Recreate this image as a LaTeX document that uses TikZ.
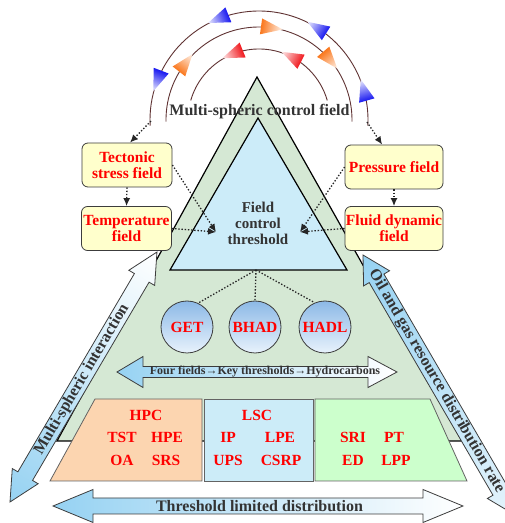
\documentclass[tikz,border=0pt]{standalone}
\usepackage{fontspec}
\setmainfont{Liberation Serif}
\usetikzlibrary{arrows.meta,calc}
\definecolor{redT}{RGB}{255,0,0}
\definecolor{darkT}{RGB}{51,51,51}
\definecolor{greenF}{RGB}{213,232,212}
\definecolor{blueF}{RGB}{204,236,249}
\definecolor{boxF}{RGB}{255,255,204}
\definecolor{boxL}{RGB}{60,60,60}
\definecolor{peach}{RGB}{252,213,176}
\definecolor{lscF}{RGB}{204,236,248}
\definecolor{mint}{RGB}{204,255,204}
\definecolor{arcC}{RGB}{95,50,50}
\definecolor{arrB}{RGB}{150,210,242}
\definecolor{cirT}{RGB}{140,185,230}
\definecolor{cirB}{RGB}{232,242,252}
\definecolor{hBlue}{RGB}{25,25,240}
\definecolor{hOrange}{RGB}{250,120,30}
\definecolor{hRed}{RGB}{240,25,30}
\newcommand\myfs[1]{\fontsize{#1}{#1}\selectfont\bfseries}
\newcommand\archead[4]{%
  \begin{scope}[transform canvas={shift={(259,403)}, rotate=#1, shift={(#2,0)}, rotate=#3}]
    \shade[left color=#4, right color=#4!8] (-11,-8) -- (11,0) -- (-11,8) -- cycle;
  \end{scope}}
\begin{document}
\begin{tikzpicture}[x=1pt,y=1pt,
  redtxt/.style={text=redT, font=\myfs{15.5}, inner sep=0pt},
  darktxt/.style={text=darkT, font=\myfs{16}, inner sep=0pt},
  fieldbox/.style={draw=boxL, line width=0.8pt, rounded corners=6pt, fill=boxF,
    minimum width=90pt, minimum height=44pt, align=center, text=redT,
    font=\fontsize{15.5}{16}\selectfont\bfseries, inner xsep=0.5pt, inner ysep=1pt},
  dotline/.style={line width=1.3pt, dash pattern=on 1.4pt off 1.8pt, draw=black!85},
  dotarrow/.style={dotline, -{Latex[length=8pt,width=7pt]}},
  circ/.style={circle, draw=boxL, line width=0.8pt, top color=cirT, bottom color=cirB,
    minimum size=52pt, inner sep=0pt, text=redT, font=\myfs{15.5}},
  trap/.style={draw=boxL!80, line width=0.8pt},
  bigarrow/.style={draw=boxL, line width=0.8pt}]
\useasboundingbox (0,0) rectangle (505,523);
\clip (0,0) rectangle (505,523);

% triangles
\draw[fill=greenF, line width=1.2pt] (257,446) -- (462,82) -- (57,82) -- cycle;
\draw[fill=blueF, line width=1.2pt] (258,405) -- (347,253) -- (170,253) -- cycle;
\node[darktxt, align=center, font=\fontsize{15}{16}\selectfont\bfseries] (fct) at (258,300) {Field\\control\\threshold};

% arcs
\draw[arcC, line width=0.9pt] (259,403) ++(183:109) arc[start angle=183, end angle=-3, radius=109];
\draw[arcC, line width=0.9pt] (259,403) ++(181:93) arc[start angle=181, end angle=-1, radius=93];
\draw[arcC, line width=0.9pt] (259,403) ++(164:71) arc[start angle=164, end angle=16, radius=71];
\archead{112}{109}{90}{hBlue}
\archead{159}{109}{90}{hBlue}
\archead{58}{109}{90}{hBlue}
\archead{16}{109}{90}{hBlue}
\archead{82}{93}{-90}{hOrange}
\archead{40}{93}{-90}{hOrange}
\archead{142}{93}{-90}{hOrange}
\archead{112}{71}{90}{hRed}
\archead{63}{71}{90}{hRed}
\node[darktxt] (mcf) at (259.5,411) {Multi-spheric control field};

% four fields arrow
\shadedraw[bigarrow, left color=arrB, right color=white]
  (117,151) -- (143,166.5) -- (143,156.5) -- (368,156.5) -- (368,166.5) -- (397,151)
  -- (368,135.5) -- (368,145.5) -- (143,145.5) -- (143,135.5) -- cycle;
\node[darktxt, font=\myfs{12}] (ff) at (265,151) {Four fields→Key thresholds→Hydrocarbons};

% circles
\node[circ] (get) at (187,196) {GET};
\node[circ] (bhad) at (255,196) {BHAD};
\node[circ] (hadl) at (325,196) {HADL};
\coordinate (tb) at (256,253);
\draw[dotline] (tb) -- (get.65);
\draw[dotline] (tb) -- (bhad.north);
\draw[dotline] (tb) -- (hadl.113);

% trapezoids
\filldraw[trap, fill=peach] (95,124) -- (202,124) -- (202,42) -- (50,42) -- cycle;
\filldraw[trap, fill=lscF] (204,124) -- (313,124) -- (313,42) -- (204,42) -- cycle;
\filldraw[trap, fill=mint] (315,124) -- (430,124) -- (467,42) -- (315,42) -- cycle;
\node[redtxt] (hpc) at (146,108) {HPC};
\node[redtxt] (tst) at (122,86) {TST};
\node[redtxt] (hpe) at (167,86) {HPE};
\node[redtxt] (oa) at (122,63) {OA};
\node[redtxt] (srs) at (166,63) {SRS};
\node[redtxt] (lsc) at (257,108) {LSC};
\node[redtxt] (ip) at (228,86) {IP};
\node[redtxt] (lpe) at (280,86) {LPE};
\node[redtxt] (ups) at (228,63) {UPS};
\node[redtxt] (csrp) at (281,63) {CSRP};
\node[redtxt] (sri) at (353,86) {SRI};
\node[redtxt] (pt) at (394,86) {PT};
\node[redtxt] (ed) at (353,63) {ED};
\node[redtxt] (lpp) at (396,63) {LPP};

% bottom arrow
\shadedraw[bigarrow, left color=arrB, right color=white]
  (53,17) -- (93,33.5) -- (93,25) -- (423,25) -- (423,33.5) -- (463,17)
  -- (423,0.5) -- (423,9) -- (93,9) -- (93,0.5) -- cycle;
\node[darktxt] (tld) at (259.5,17) {Threshold limited distribution};

% left diagonal arrow
\begin{scope}[transform canvas={shift={(10,21)}, rotate=59.55}]
  \shadedraw[bigarrow, left color=arrB, right color=white]
    (0,0) -- (30,15) -- (30,8.5) -- (260,8.5) -- (260,15) -- (290,0)
    -- (260,-15) -- (260,-8.5) -- (30,-8.5) -- (30,-15) -- cycle;
\end{scope}
\node[darktxt, rotate=59.55] (msi) at (82,143.4) {Multi-spheric interaction};

% right diagonal arrow
\begin{scope}[transform canvas={shift={(363,268)}, rotate=-59.8}]
  \shadedraw[bigarrow, left color=arrB, right color=arrB!25]
    (0,0) -- (27,15) -- (27,8.5) -- (273,8.5) -- (273,15) -- (300,0)
    -- (273,-15) -- (273,-8.5) -- (27,-8.5) -- (27,-15) -- cycle;
\end{scope}
\node[darktxt, rotate=-59.8] (ogr) at (436.4,141.8) {Oil and gas resource distribution rate};

% field boxes
\node[fieldbox] (tect) at (127,358) {Tectonic\\stress field};
\node[fieldbox] (temp) at (126.5,294.5) {Temperature\\field};
\node[fieldbox, minimum width=98pt] (pres) at (394,356) {Pressure field};
\node[fieldbox, minimum width=98pt] (fluid) at (394,294.5) {Fluid dynamic\\field};

% dotted arrows
\coordinate (lt) at (216,291);
\coordinate (rt) at (300,291);
\coordinate (al) at (151,402);
\coordinate (ar) at (367,401);
\draw[dotarrow] (tect.south) -- (temp.north);
\draw[dotarrow] (pres.south) -- (fluid.north);
\draw[dotarrow] (tect.east) -- (lt);
\draw[dotarrow] (temp.east) -- (lt);
\draw[dotarrow] (pres.west) -- (rt);
\draw[dotarrow] (fluid.west) -- (rt);
\draw[dotarrow] (al) -- ($(tect.north)+(3,0)$);
\draw[dotarrow] (ar) -- ($(pres.north west)!0.38!(pres.north east)$);
\end{tikzpicture}
\end{document}
